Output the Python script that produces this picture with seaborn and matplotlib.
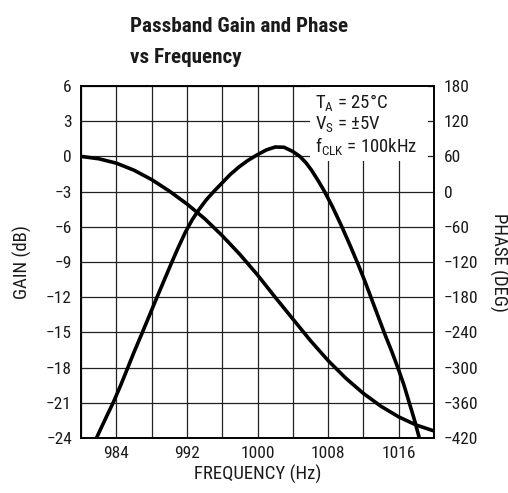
import os
import matplotlib
matplotlib.use("Agg")
import matplotlib.pyplot as plt
import matplotlib.font_manager as fm
from matplotlib.font_manager import FontProperties
import seaborn as sns
import pandas as pd
from matplotlib.patches import Rectangle

# ---- data ----
gain_freq = [981.4, 982.0, 983.0, 983.7, 984.5, 985.2, 986.0, 986.9, 987.7, 988.5,
             989.4, 990.3, 991.0, 991.8, 992.6, 993.4, 994.2, 995.1, 996.0, 996.9,
             997.9, 998.9, 1000.0, 1001.0, 1002.0, 1003.0, 1004.0, 1004.8, 1005.5,
             1006.1, 1006.9, 1007.6, 1008.5, 1009.5, 1010.5, 1011.4, 1012.2, 1012.9,
             1013.6, 1014.4, 1015.2, 1015.95, 1016.6, 1017.2, 1017.8, 1018.3, 1018.6]
gain_db = [-24.6, -23.6, -22.0, -20.9, -19.5, -18.2, -16.7, -15.1, -13.65, -12.2,
           -10.6, -9.0, -7.8, -6.5, -5.4, -4.5, -3.7, -2.95, -2.25, -1.55,
           -0.9, -0.35, 0.15, 0.55, 0.8, 0.78, 0.42, 0.0, -0.55,
           -1.15, -2.1, -3.0, -4.3, -5.9, -7.6, -9.2, -10.7, -12.1,
           -13.5, -15.1, -16.6, -18.1, -19.5, -21.0, -22.5, -23.9, -24.8]

phase_freq = [980, 982, 984, 986, 988, 990, 992, 994, 996, 998, 1000, 1002, 1004,
              1006, 1008, 1010, 1012, 1014, 1016, 1018, 1020]
phase_deg = [60, 56, 48.5, 36.5, 20.5, 1, -21, -46, -75, -107, -142, -180, -217,
             -254, -288, -318, -344, -366, -384, -398, -408]

x_grid = list(range(980, 1021, 4))
x_labels = ["", "984", "", "992", "", "1000", "", "1008", "", "1016", ""]
gain_ticks = list(range(6, -25, -3))
phase_ticks = list(range(180, -421, -60))

title_lines = ["Passband Gain and Phase", "vs Frequency"]
notes = ["T$_\\mathregular{A}$ = 25°C", "V$_\\mathregular{S}$ = ±5V",
         "f$_\\mathregular{CLK}$ = 100kHz"]


# ---- find a narrow font ----
def find_font(bold):
    prefs = ["liberationsansnarrow", "robotocondensed", "notosanscondensed",
             "opensanscondensed", "dejavusanscondensed"]
    files = {}
    for f in fm.fontManager.ttflist:
        stem = os.path.splitext(os.path.basename(f.fname))[0].lower()
        stem = stem.replace("-", "").replace("_", "").replace(" ", "")
        files.setdefault(stem, f.fname)
    for p in prefs:
        keys = [p + "bold"] if bold else [p, p + "regular", p + "book"]
        for k in keys:
            if k in files:
                return files[k]
    return None


REG = find_font(False)
BOLD = find_font(True)


def fp(size, bold=False):
    path = BOLD if bold else REG
    if path:
        return FontProperties(fname=path, size=size)
    return FontProperties(family="DejaVu Sans", size=size,
                          weight="bold" if bold else "normal")


# ---- style ----
sns.set_style("white")
plt.rcParams["font.family"] = ["DejaVu Sans"]
plt.rcParams["axes.unicode_minus"] = True

FS = 12.5
FL = 13.5
INK = "#1a1a1a"
fig = plt.figure(figsize=(5.08, 4.93), dpi=100)
ax = fig.add_axes([0.15945, 0.11156, 0.69488, 0.71400])
ax2 = ax.twinx()

gdf = pd.DataFrame({"f": gain_freq, "g": gain_db})
pdf = pd.DataFrame({"f": phase_freq, "p": phase_deg})

sns.lineplot(data=gdf, x="f", y="g", ax=ax, color="black", lw=2.6, sort=False,
             zorder=3)
sns.lineplot(data=pdf, x="f", y="p", ax=ax2, color="black", lw=2.6, sort=False,
             zorder=3)

ax.set_xlim(980, 1020)
ax.set_ylim(-24, 6)
ax2.set_ylim(-420, 180)

ax.set_xticks(x_grid)
ax.set_xticklabels(x_labels)
ax.set_yticks(gain_ticks)
ax2.set_yticks(phase_ticks)

ax.grid(True, color="#222222", lw=0.9)
ax.set_axisbelow(True)
ax2.grid(False)

for a in (ax, ax2):
    a.tick_params(length=0)
    for s in a.spines.values():
        s.set_color("black")
        s.set_linewidth(1.2)
ax.tick_params(axis="y", pad=6.5)
ax.tick_params(axis="x", pad=6)
ax2.tick_params(axis="y", pad=7)

for lbl in ax.get_xticklabels() + ax.get_yticklabels() + ax2.get_yticklabels():
    lbl.set_fontproperties(fp(FS))
    lbl.set_color(INK)

ax.set_xlabel("FREQUENCY (Hz)", fontproperties=fp(FL), color=INK)
ax.set_ylabel("GAIN (dB)", fontproperties=fp(FL), color=INK)
ax2.set_ylabel("PHASE (DEG)", fontproperties=fp(FL), rotation=-90, va="center",
               color=INK)
ax.xaxis.set_label_coords(0.501, -0.076)
ax.yaxis.set_label_coords(-0.139, 0.5)
ax2.yaxis.set_label_coords(1.184, 0.5)

# white box behind the condition notes
ax.add_patch(Rectangle((0.649, 0.787), 0.334, 0.213, transform=ax.transAxes,
                       facecolor="white", edgecolor="none", zorder=1.5))
for i, t in enumerate(notes):
    ax.text(0.663, 0.952 - i * 0.0625, t, transform=ax.transAxes,
            fontproperties=fp(FL), ha="left", va="center", zorder=4, color=INK)

fig.text(0.256, 0.935, title_lines[0], fontproperties=fp(15.2, bold=True),
         ha="left", va="baseline", color=INK)
fig.text(0.256, 0.872, title_lines[1], fontproperties=fp(15.2, bold=True),
         ha="left", va="baseline", color=INK)

fig.savefig("out.png", dpi=100)
